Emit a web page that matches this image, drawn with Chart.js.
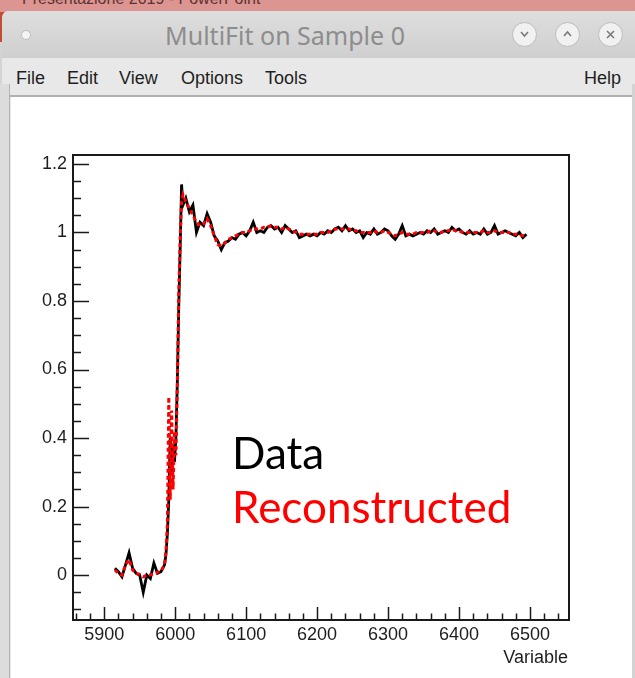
<!DOCTYPE html>
<html>
<head>
<meta charset="utf-8">
<script src="https://cdn.jsdelivr.net/npm/chart.js@4.4.1/dist/chart.umd.min.js"></script>
<style>
  html, body { margin: 0; padding: 0; }
  body { width: 635px; height: 678px; overflow: hidden; position: relative; background: #d4d4d4; font-family: "Liberation Sans", Arial, sans-serif; }
  #ppt { position: absolute; left: 0; top: 0; width: 635px; height: 13px; background: #dd9591; overflow: hidden; border-bottom: 2px solid #c44d31; }
  #ppt span { position: absolute; left: 22px; top: -10px; font-size: 16px; color: #5b3331; }
  #redEdge { position: absolute; left: 0; top: 12px; width: 4px; height: 30px; background: #c44d31; }
  #win { position: absolute; left: 2px; top: 11px; width: 640px; height: 680px; background: #e8e8e8; border-radius: 7px 7px 0 0; overflow: hidden; }
  #titlebar { position: absolute; left: 0; top: 0; width: 100%; height: 47px; background: linear-gradient(#dedede, #cfcfcf); border-bottom: 1px solid #c4c4c4; }
  #title { position: absolute; left: 0; width: 566px; top: 7px; text-align: center; font-family: "Noto Sans", sans-serif; font-size: 25px; color: #8d8d8d; }
  #dot { position: absolute; left: 19px; top: 19px; width: 8px; height: 8px; border-radius: 50%; background: #f4f4f4; border: 1px solid #bdbdbd; }
  .btn { position: absolute; top: 11px; width: 23px; height: 23px; border-radius: 50%; background: #f1f1f1; border: 1px solid #bcbcbc; }
  .btn svg { position: absolute; left: 0; top: 0; }
  #menubar { position: absolute; left: 0; top: 47px; width: 100%; height: 37px; background: #e8e8e8; }
  .mi { position: absolute; top: 10px; font-size: 18px; color: #1e1e1e; }
  #leftgap { position: absolute; left: 0; top: 84px; width: 9px; height: 600px; background: #dcdcdc; border-right: 1px solid #b3b3b3; }
  #sheet { position: absolute; left: 11px; top: 97px; width: 621px; height: 581px; background: #fff; }
  #topline { position: absolute; left: 10px; top: 95px; width: 622px; height: 2px; background: #b0b0b0; }
  #rightgap { position: absolute; left: 632px; top: 84px; width: 3px; height: 600px; background: #d3d3d3; }
  #chart { position: absolute; left: 11px; top: 97px; }
  .note { position: absolute; left: 232px; font-family: Lato, "Open Sans", sans-serif; font-size: 44px; line-height: 1; }
</style>
</head>
<body>
<div id="ppt"><span>Presentazione 2019 - PowerPoint</span></div>
<div id="redEdge"></div>
<div id="win">
  <div id="titlebar">
    <div id="dot"></div>
    <div id="title">MultiFit on Sample 0</div>
    <div class="btn" style="left:510px"><svg width="23" height="23"><polyline points="8,9 11.5,13 15,9" fill="none" stroke="#7a7a7a" stroke-width="1.6"/></svg></div>
    <div class="btn" style="left:553px"><svg width="23" height="23"><polyline points="8,13 11.5,9 15,13" fill="none" stroke="#7a7a7a" stroke-width="1.6"/></svg></div>
    <div class="btn" style="left:596px"><svg width="23" height="23"><path d="M8,8 L15,15 M15,8 L8,15" fill="none" stroke="#7a7a7a" stroke-width="1.6"/></svg></div>
  </div>
  <div id="menubar">
    <span class="mi" style="left:14px">File</span>
    <span class="mi" style="left:65px">Edit</span>
    <span class="mi" style="left:117px">View</span>
    <span class="mi" style="left:179px">Options</span>
    <span class="mi" style="left:263px">Tools</span>
    <span class="mi" style="left:582px">Help</span>
  </div>
</div>
<div id="leftgap"></div>
<div id="rightgap"></div>
<div id="sheet"></div>
<div id="topline"></div>
<canvas id="chart" width="621" height="581"></canvas>
<div class="note" style="top:430px;color:#000">Data</div>
<div class="note" style="top:484px;color:#ff0000">Reconstructed</div>

<script>
// x values (Variable)
const energy = [
  5915, 5920, 5925, 5930, 5935, 5940, 5945, 5950, 5955, 5960, 5965, 5970, 5975, 5980, 5985,
  5987, 5989, 5991, 5993, 5995, 5997, 5999, 6001, 6003, 6005, 6007, 6009, 6011,
  6015, 6020, 6025, 6030, 6035, 6040, 6045, 6050, 6055, 6060,
  6065, 6070, 6075, 6080, 6085, 6090, 6095, 6100, 6105, 6110,
  6115, 6120, 6125, 6130, 6135, 6140, 6145, 6150, 6155, 6160,
  6165, 6170, 6175, 6180, 6185, 6190, 6195, 6200, 6205, 6210,
  6215, 6220, 6225, 6230, 6235, 6240, 6245, 6250, 6255, 6260,
  6265, 6270, 6275, 6280, 6285, 6290, 6295, 6300, 6305, 6310,
  6315, 6320, 6325, 6330, 6335, 6340, 6345, 6350, 6355, 6360,
  6365, 6370, 6375, 6380, 6385, 6390, 6395, 6400, 6405, 6410,
  6415, 6420, 6425, 6430, 6435, 6440, 6445, 6450, 6455, 6460,
  6465, 6470, 6475, 6480, 6485, 6490, 6495
];

// measured data (black)
const dataVals = [
  0.02, 0.01, -0.005, 0.03, 0.065, 0.02, 0.005, 0.0, -0.05, 0.0, -0.01, 0.035, 0.005, 0.01, 0.03,
  0.06, 0.12, 0.22, 0.40, 0.30, 0.38, 0.33, 0.40, 0.56, 0.78, 0.95, 1.14, 1.08,
  1.10, 1.06, 1.08, 1.00, 1.03, 1.02, 1.055, 1.03, 0.99, 0.975,
  0.95, 0.97, 0.975, 0.985, 0.98, 0.995, 1.0, 0.99, 1.005, 1.03,
  1.0, 1.005, 1.0, 1.015, 1.02, 1.01, 1.015, 1.0, 1.02, 1.01,
  1.0, 1.005, 0.985, 0.99, 0.995, 0.99, 0.995, 0.99, 1.0, 0.995,
  1.005, 1.0, 1.01, 1.015, 1.005, 1.02, 1.005, 1.01, 1.0, 1.005,
  0.985, 1.0, 0.995, 1.01, 0.995, 1.0, 1.01, 1.005, 0.99, 0.98,
  0.995, 1.02, 0.99, 0.995, 0.99, 0.995, 1.0, 0.995, 1.005, 1.0,
  1.01, 0.995, 1.0, 1.005, 1.0, 1.015, 1.005, 1.01, 1.0, 0.995,
  1.005, 0.995, 1.0, 0.995, 1.01, 0.995, 1.0, 1.02, 0.995, 1.0,
  1.005, 1.0, 0.995, 0.99, 1.0, 0.985, 0.995
];

// reconstructed (red, dashed)
const recoVals = [
  0.015, 0.005, 0.0, 0.03, 0.045, 0.015, 0.005, 0.002, -0.005, 0.0, 0.0, 0.005, 0.008, 0.012, 0.03,
  0.07, 0.15, 0.52, 0.22, 0.48, 0.25, 0.42, 0.35, 0.55, 0.82, 0.98, 1.09, 1.11,
  1.09, 1.07, 1.05, 1.03, 1.02, 1.025, 1.04, 1.02, 0.99, 0.965,
  0.96, 0.97, 0.98, 0.985, 0.99, 0.995, 1.0, 1.0, 1.005, 1.01,
  1.01, 1.01, 1.015, 1.015, 1.02, 1.015, 1.015, 1.01, 1.015, 1.01,
  1.005, 1.0, 0.995, 0.995, 0.995, 0.995, 0.995, 0.995, 1.0, 1.0,
  1.0, 1.005, 1.01, 1.01, 1.01, 1.01, 1.01, 1.005, 1.005, 1.0,
  1.0, 1.0, 1.0, 1.005, 1.0, 1.0, 1.005, 1.0, 0.995, 0.99,
  0.995, 1.0, 0.995, 0.995, 0.995, 1.0, 1.0, 1.0, 1.0, 1.005,
  1.005, 1.0, 1.0, 1.005, 1.005, 1.01, 1.005, 1.005, 1.0, 1.0,
  1.0, 1.0, 1.0, 1.0, 1.005, 1.0, 1.0, 1.005, 1.0, 1.0,
  1.0, 1.0, 0.995, 0.995, 0.995, 0.99, 0.99
];

// axis ticks
const xTicks = [5900, 6000, 6100, 6200, 6300, 6400, 6500];
const yTicks = [0, 0.2, 0.4, 0.6, 0.8, 1, 1.2];
const xMinorStep = 20;
const yMinorStep = 0.05;

const toPoints = vals => energy.map((e, i) => ({ x: e, y: vals[i] }));

// cadre + graduations facon ROOT
const rootFrame = {
  id: 'rootFrame',
  afterDraw(chart) {
    const ctx = chart.ctx;
    const a = chart.chartArea;
    const x = chart.scales.x, y = chart.scales.y;
    ctx.save();
    ctx.strokeStyle = '#1a1a1a';
    ctx.lineWidth = 1.5;
    ctx.beginPath();
    for (let v = Math.ceil(x.min / xMinorStep) * xMinorStep; v <= x.max; v += xMinorStep) {
      const px = Math.round(x.getPixelForValue(v)) + 0.5;
      const len = xTicks.includes(v) ? 13 : 6.5;
      ctx.moveTo(px, a.bottom);
      ctx.lineTo(px, a.bottom - len);
    }
    for (let k = Math.ceil(y.min / yMinorStep); k * yMinorStep <= y.max; k++) {
      const v = +(k * yMinorStep).toFixed(2);
      const py = Math.round(y.getPixelForValue(v)) + 0.5;
      const len = yTicks.includes(v) ? 16 : 8;
      ctx.moveTo(a.left, py);
      ctx.lineTo(a.left + len, py);
    }
    ctx.stroke();
    ctx.lineWidth = 2;
    ctx.strokeRect(a.left, a.top, a.right - a.left, a.bottom - a.top);
    // titre de l'axe x
    ctx.fillStyle = '#1e1e1e';
    ctx.font = '18px "Liberation Sans", Arial, sans-serif';
    ctx.textAlign = 'right';
    ctx.textBaseline = 'alphabetic';
    ctx.fillText('Variable', a.right - 1, a.bottom + 43);
    ctx.restore();
  }
};

new Chart(document.getElementById('chart'), {
  type: 'line',
  data: {
    datasets: [
      {
        label: 'Reconstructed',
        data: toPoints(recoVals),
        borderColor: '#ff0000',
        borderWidth: 3,
        borderDash: [4, 3],
        pointRadius: 0,
        tension: 0,
        order: 0
      },
      {
        label: 'Data',
        data: toPoints(dataVals),
        borderColor: '#000000',
        borderWidth: 2.8,
        pointRadius: 0,
        tension: 0,
        order: 1
      }
    ]
  },
  plugins: [rootFrame],
  options: {
    responsive: false,
    animation: false,
    devicePixelRatio: 1,
    layout: { padding: { left: 0, top: 58, right: 63, bottom: 0 } },
    plugins: { legend: { display: false }, tooltip: { enabled: false } },
    scales: {
      x: {
        type: 'linear',
        min: 5856,
        max: 6555,
        afterFit: s => { s.height = 58; },
        afterBuildTicks: s => { s.ticks = xTicks.map(v => ({ value: v })); },
        grid: { display: false, drawTicks: false },
        border: { display: false },
        ticks: {
          padding: 4,
          color: '#1e1e1e',
          maxRotation: 0,
          autoSkip: false,
          font: { family: '"Liberation Sans", Arial, sans-serif', size: 18 },
          callback: v => String(v)
        }
      },
      y: {
        type: 'linear',
        min: -0.131,
        max: 1.226,
        afterFit: s => { s.width = 62; },
        afterBuildTicks: s => { s.ticks = yTicks.map(v => ({ value: v })); },
        grid: { display: false, drawTicks: false },
        border: { display: false },
        ticks: {
          padding: 6,
          color: '#1e1e1e',
          autoSkip: false,
          font: { family: '"Liberation Sans", Arial, sans-serif', size: 18 },
          callback: v => String(parseFloat(v.toFixed(2)))
        }
      }
    }
  }
});
</script>
</body>
</html>
